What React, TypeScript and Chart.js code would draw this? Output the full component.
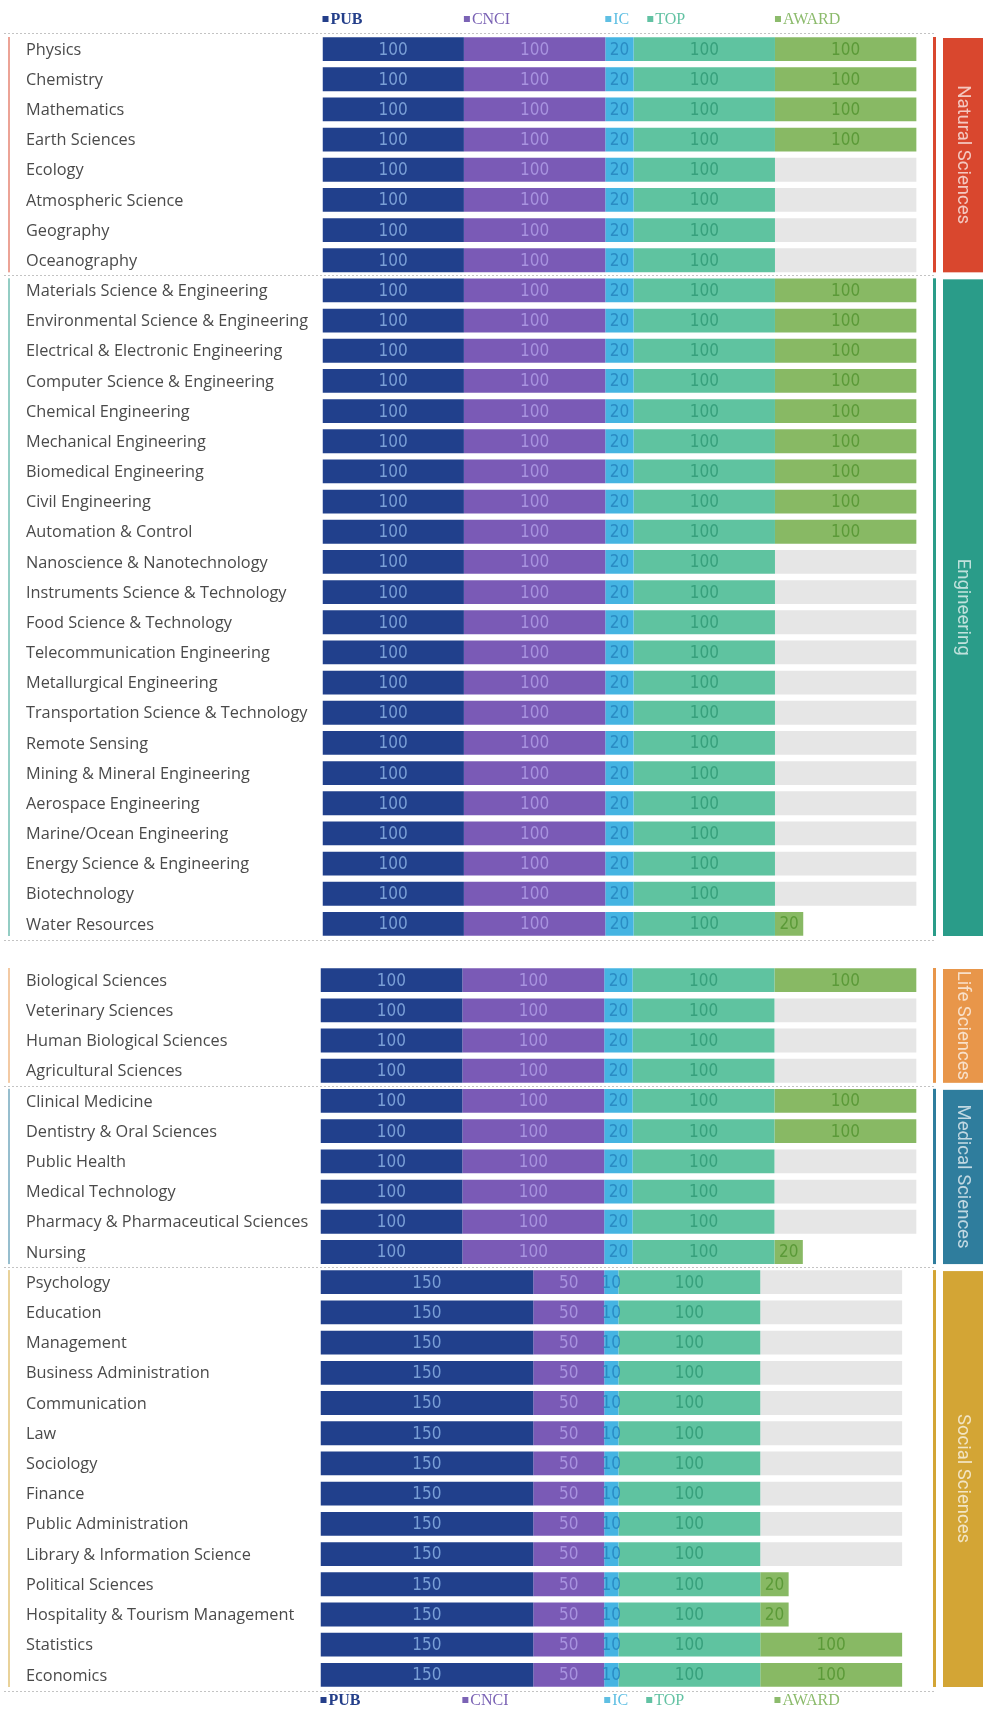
import React, { useEffect, useRef } from "react";
import { Chart, registerables } from "chart.js";

Chart.register(...registerables);

// ---------- DATA ----------
const topCategories = [
  "Physics", "Chemistry", "Mathematics", "Earth Sciences", "Ecology", "Atmospheric Science", "Geography", "Oceanography",
  "Materials Science & Engineering", "Environmental Science & Engineering", "Electrical & Electronic Engineering",
  "Computer Science & Engineering", "Chemical Engineering", "Mechanical Engineering", "Biomedical Engineering",
  "Civil Engineering", "Automation & Control", "Nanoscience & Nanotechnology", "Instruments Science & Technology",
  "Food Science & Technology", "Telecommunication Engineering", "Metallurgical Engineering",
  "Transportation Science & Technology", "Remote Sensing", "Mining & Mineral Engineering", "Aerospace Engineering",
  "Marine/Ocean Engineering", "Energy Science & Engineering", "Biotechnology", "Water Resources",
];
const topPUB = [100, 100, 100, 100, 100, 100, 100, 100, 100, 100, 100, 100, 100, 100, 100, 100, 100, 100, 100, 100, 100, 100, 100, 100, 100, 100, 100, 100, 100, 100];
const topCNCI = [100, 100, 100, 100, 100, 100, 100, 100, 100, 100, 100, 100, 100, 100, 100, 100, 100, 100, 100, 100, 100, 100, 100, 100, 100, 100, 100, 100, 100, 100];
const topIC = [20, 20, 20, 20, 20, 20, 20, 20, 20, 20, 20, 20, 20, 20, 20, 20, 20, 20, 20, 20, 20, 20, 20, 20, 20, 20, 20, 20, 20, 20];
const topTOP = [100, 100, 100, 100, 100, 100, 100, 100, 100, 100, 100, 100, 100, 100, 100, 100, 100, 100, 100, 100, 100, 100, 100, 100, 100, 100, 100, 100, 100, 100];
const topAWARD = [100, 100, 100, 100, 0, 0, 0, 0, 100, 100, 100, 100, 100, 100, 100, 100, 100, 0, 0, 0, 0, 0, 0, 0, 0, 0, 0, 0, 0, 20];

const bottomCategories = [
  "Biological Sciences", "Veterinary Sciences", "Human Biological Sciences", "Agricultural Sciences",
  "Clinical Medicine", "Dentistry & Oral Sciences", "Public Health", "Medical Technology",
  "Pharmacy & Pharmaceutical Sciences", "Nursing",
  "Psychology", "Education", "Management", "Business Administration", "Communication", "Law", "Sociology",
  "Finance", "Public Administration", "Library & Information Science", "Political Sciences",
  "Hospitality & Tourism Management", "Statistics", "Economics",
];
const bottomPUB = [100, 100, 100, 100, 100, 100, 100, 100, 100, 100, 150, 150, 150, 150, 150, 150, 150, 150, 150, 150, 150, 150, 150, 150];
const bottomCNCI = [100, 100, 100, 100, 100, 100, 100, 100, 100, 100, 50, 50, 50, 50, 50, 50, 50, 50, 50, 50, 50, 50, 50, 50];
const bottomIC = [20, 20, 20, 20, 20, 20, 20, 20, 20, 20, 10, 10, 10, 10, 10, 10, 10, 10, 10, 10, 10, 10, 10, 10];
const bottomTOP = [100, 100, 100, 100, 100, 100, 100, 100, 100, 100, 100, 100, 100, 100, 100, 100, 100, 100, 100, 100, 100, 100, 100, 100];
const bottomAWARD = [100, 0, 0, 0, 100, 100, 0, 0, 0, 20, 0, 0, 0, 0, 0, 0, 0, 0, 0, 0, 20, 20, 100, 100];

const seriesNames = ["PUB", "CNCI", "IC", "TOP", "AWARD"];

type Group = { name: string; from: number; to: number; color: string };
const topGroups: Group[] = [
  { name: "Natural Sciences", from: 0, to: 7, color: "#d9472e" },
  { name: "Engineering", from: 8, to: 29, color: "#2a9c89" },
];
const bottomGroups: Group[] = [
  { name: "Life Sciences", from: 0, to: 3, color: "#e8964a" },
  { name: "Medical Sciences", from: 4, to: 9, color: "#2f7d9d" },
  { name: "Social Sciences", from: 10, to: 23, color: "#d3a535" },
];

// ---------- STYLE ----------
const barColors = ["#21408c", "#7a5ab6", "#45b4e2", "#5fc3a0", "#88b964"];
const valueColors = ["#7a9fd6", "#a893df", "#2a8cc4", "#37a07c", "#5b9a38"];
const legendColors = ["#243f8a", "#7b63b5", "#5fbfe3", "#62c2a3", "#8cbb6c"];
const blankColor = "#e6e6e6";

type SectionCfg = {
  categories: string[];
  series: number[][];
  groups: Group[];
  topRule: boolean;
  legendY: number;
  legendStarts: number[];
};

function makePlugin(cfg: SectionCfg) {
  return {
    id: "decor",
    beforeDatasetsDraw(chart: any) {
      const ctx: CanvasRenderingContext2D = chart.ctx;
      const area = chart.chartArea;
      const n = cfg.categories.length;
      const step = (area.bottom - area.top) / n;
      const rowTop = (i: number) => area.top + i * step;
      ctx.save();
      // dotted rules
      ctx.strokeStyle = "rgba(175,175,175,0.75)";
      ctx.lineWidth = 1;
      ctx.setLineDash([2, 2]);
      const ys: number[] = [];
      if (cfg.topRule) ys.push(area.top - 1);
      cfg.groups.forEach((g, k) => {
        if (k > 0) ys.push(rowTop(g.from));
      });
      ys.push(area.bottom + 1);
      ys.forEach((y) => {
        const yy = Math.round(y) + 0.5;
        ctx.beginPath();
        ctx.moveTo(4, yy);
        ctx.lineTo(936, yy);
        ctx.stroke();
      });
      ctx.setLineDash([]);
      // group decorations
      cfg.groups.forEach((g) => {
        const y0 = rowTop(g.from);
        const y1 = rowTop(g.to + 1);
        ctx.fillStyle = g.color;
        ctx.globalAlpha = 0.5;
        ctx.fillRect(8, y0 + 3, 2, y1 - y0 - 6);
        ctx.globalAlpha = 1;
        ctx.fillRect(933, y0 + 3, 3, y1 - y0 - 6);
        ctx.fillRect(943, y0 + 4, 40, y1 - y0 - 7);
        ctx.save();
        ctx.beginPath();
        ctx.rect(943, y0 + 4, 40, y1 - y0 - 7);
        ctx.clip();
        ctx.translate(963, (y0 + y1) / 2);
        ctx.rotate(Math.PI / 2);
        ctx.fillStyle = "rgba(255,255,255,0.7)";
        ctx.font = '18.5px Roboto, "Open Sans", sans-serif';
        ctx.textAlign = "center";
        ctx.textBaseline = "middle";
        ctx.fillText(g.name, 0, 0);
        ctx.restore();
      });
      // category labels
      ctx.fillStyle = "#4a4a4a";
      ctx.font = '16.3px "Open Sans", sans-serif';
      ctx.textAlign = "left";
      ctx.textBaseline = "middle";
      cfg.categories.forEach((c, i) => ctx.fillText(c, 26, rowTop(i) + step / 2 + 1));
      ctx.restore();
    },
    afterDatasetsDraw(chart: any) {
      const ctx: CanvasRenderingContext2D = chart.ctx;
      ctx.save();
      // value labels
      ctx.font = '17px "Liberation Sans Narrow", "DejaVu Sans Condensed", sans-serif';
      ctx.textAlign = "center";
      ctx.textBaseline = "middle";
      for (let d = 0; d < seriesNames.length; d++) {
        const meta = chart.getDatasetMeta(d);
        meta.data.forEach((el: any, i: number) => {
          const v = cfg.series[d][i];
          if (!v) return;
          ctx.fillStyle = valueColors[d];
          ctx.fillText(String(v), (el.x + el.base) / 2, el.y + 1);
        });
      }
      // legend
      const xs = chart.scales.x;
      let prevEnd = -1000;
      ctx.textAlign = "left";
      for (let d = 0; d < seriesNames.length; d++) {
        const seg = xs.getPixelForValue(cfg.legendStarts[d]);
        const x = Math.max(seg, prevEnd + 18);
        ctx.font = d === 0
          ? 'bold 16px "Liberation Serif", serif'
          : '16px "Liberation Serif", serif';
        ctx.fillStyle = legendColors[d];
        ctx.fillRect(x, cfg.legendY - 3, 6, 6);
        ctx.fillText(seriesNames[d], x + 8, cfg.legendY + 1);
        prevEnd = x + 8 + ctx.measureText(seriesNames[d]).width;
      }
      ctx.restore();
    },
  };
}

type SectionProps = {
  cfg: SectionCfg;
  top: number;
  height: number;
  padTop: number;
  padBottom: number;
  padLeft: number;
};

function Section({ cfg, top, height, padTop, padBottom, padLeft }: SectionProps) {
  const ref = useRef<HTMLCanvasElement | null>(null);
  useEffect(() => {
    if (!ref.current) return;
    const award = cfg.series[4];
    const blank = award.map((v) => (v === 0 ? 100 : 0));
    const datasets: any[] = seriesNames.map((name, d) => ({
      label: name,
      data: cfg.series[d],
      backgroundColor: barColors[d],
      borderWidth: 0,
    }));
    datasets.push({ label: "", data: blank, backgroundColor: blankColor, borderWidth: 0 });
    const chart = new Chart(ref.current, {
      type: "bar",
      data: { labels: cfg.categories, datasets },
      options: {
        indexAxis: "y",
        responsive: false,
        animation: false,
        layout: { padding: { left: padLeft, right: 52.5, top: padTop, bottom: padBottom } },
        datasets: { bar: { categoryPercentage: 1, barPercentage: 0.79 } },
        plugins: { legend: { display: false }, tooltip: { enabled: false } },
        scales: {
          x: { stacked: true, display: false, min: 0, max: 430 },
          y: { stacked: true, display: false },
        },
      } as any,
      plugins: [makePlugin(cfg) as any],
    });
    return () => chart.destroy();
  }, []);
  return (
    <canvas
      ref={ref}
      width={983}
      height={height}
      style={{ position: "absolute", left: 0, top, width: 983, height }}
    />
  );
}

const legendStarts = [0, topPUB[0], topPUB[0] + topCNCI[0], topPUB[0] + topCNCI[0] + topIC[0], topPUB[0] + topCNCI[0] + topIC[0] + topTOP[0]];

export default function App() {
  const topCfg: SectionCfg = {
    categories: topCategories,
    series: [topPUB, topCNCI, topIC, topTOP, topAWARD],
    groups: topGroups,
    topRule: true,
    legendY: 19,
    legendStarts,
  };
  const bottomCfg: SectionCfg = {
    categories: bottomCategories,
    series: [bottomPUB, bottomCNCI, bottomIC, bottomTOP, bottomAWARD],
    groups: bottomGroups,
    topRule: false,
    legendY: 752,
    legendStarts,
  };
  return (
    <div style={{ position: "absolute", left: 0, top: 0, width: 983, height: 1709, background: "#ffffff", overflow: "hidden" }}>
      <Section cfg={topCfg} top={0} height={948} padTop={34} padBottom={9} padLeft={322.5} />
      <Section cfg={bottomCfg} top={948} height={761} padTop={17} padBottom={19} padLeft={320.5} />
    </div>
  );
}
